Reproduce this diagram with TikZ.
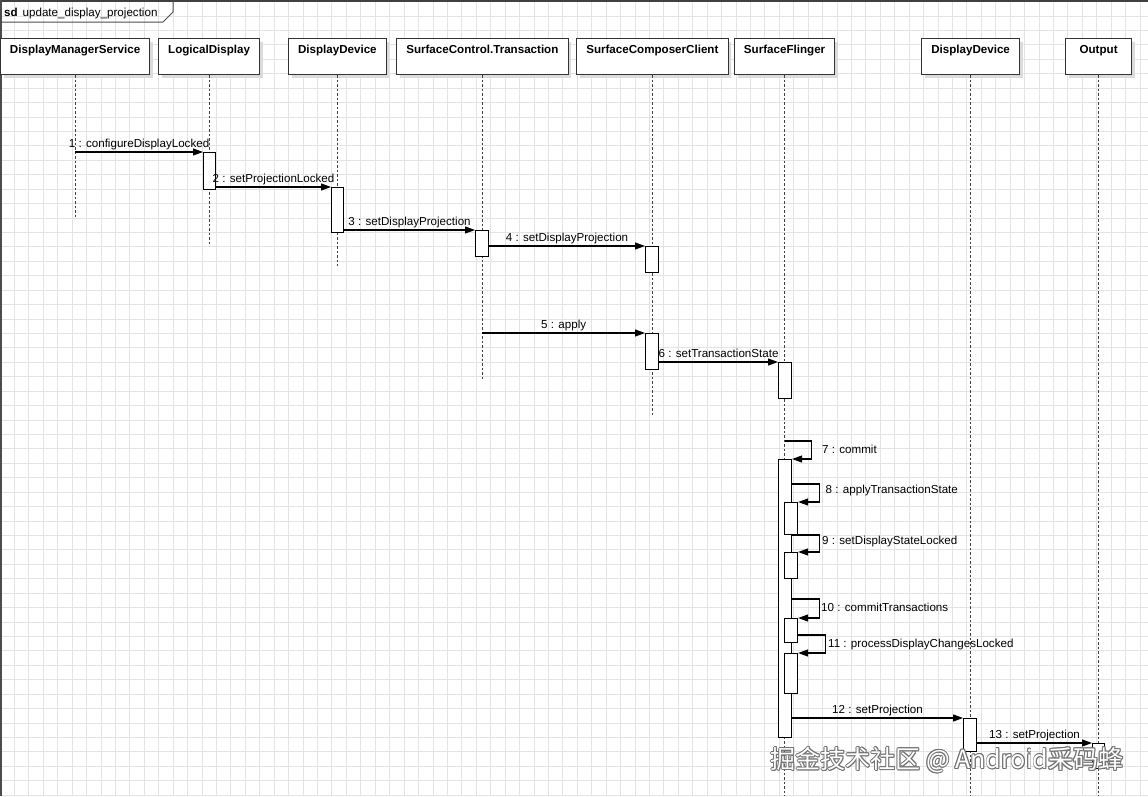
\documentclass[tikz,border=0pt]{standalone}
\usepackage{fontspec}
\setmainfont{Liberation Sans}
\newfontfamily\cjk{Noto Sans CJK SC}
\usetikzlibrary{arrows.meta,shadows,calc}
\begin{document}
\begin{tikzpicture}[x=1pt,y=-1pt,
  every node/.style={font=\fontsize{11.6}{13}\selectfont},
  gridline/.style={draw=black!11, line width=0.8pt},
  head/.style={draw=black!80, line width=1.2pt, fill=white, anchor=north west, inner sep=0pt,
    minimum height=36pt, drop shadow={shadow xshift=3pt, shadow yshift=-3pt, fill=black!14, opacity=1}},
  headtext/.style={anchor=base, inner sep=0pt, font=\fontsize{11.6}{13}\selectfont\bfseries},
  life/.style={draw=black!75, line width=1pt, dash pattern=on 2.5pt off 2pt},
  act/.style={draw=black, line width=1.1pt, fill=white, anchor=north west, inner sep=0pt},
  msg/.style={draw=black, line width=1.1pt, -{Triangle[length=10pt,width=7pt]}},
  lbl/.style={anchor=base, inner sep=0pt, yshift=4.8pt},
  slbl/.style={anchor=base west, inner sep=0pt},
  wm/.style={inner sep=0pt, font=\cjk\fontsize{25}{28}\selectfont}
]
\useasboundingbox (0,0) rectangle (1148,796);
\fill[white] (0,0) rectangle (1148,796);
% grid
\foreach \i in {1,...,79} { \draw[gridline] ({14.43*\i},0) -- ({14.43*\i},796); }
\foreach \j in {0,...,55} { \draw[gridline] (0,{1.5+14.43*\j}) -- (1148,{1.5+14.43*\j}); }
% frame
\draw[black!75, line width=2pt] (0,1) -- (1148,1);
\draw[black!70, line width=1.5pt] (0.75,0) -- (0.75,796);
\draw[black!70, line width=1pt] (0,22) -- (163,22) -- (173,12) -- (173,1);
\node[anchor=base west, inner sep=0pt, font=\fontsize{11.6}{13}\selectfont\bfseries] (sd) at (4,16) {sd};
\node[anchor=base west, inner sep=0pt] (title) at (22.5,16) {update\_display\_projection};

% heads
\node[head, minimum width=149pt] (dms) at (0,38) {};
\node[head, minimum width=101pt] (ld) at (158,38) {};
\node[head, minimum width=97.5pt] (dd) at (288,38) {};
\node[head, minimum width=171.5pt] (sct) at (396,38) {};
\node[head, minimum width=151.5pt] (scc) at (576,38) {};
\node[head, minimum width=100pt] (sf) at (734,38) {};
\node[head, minimum width=98pt] (dd2) at (921,38) {};
\node[head, minimum width=66pt] (out) at (1065,38) {};
\node[headtext] (tdms) at (dms.center |- 0,53.5) {DisplayManagerService};
\node[headtext] (tld) at (ld.center |- 0,53.5) {LogicalDisplay};
\node[headtext] (tdd) at (dd.center |- 0,53.5) {DisplayDevice};
\node[headtext] (tsct) at (sct.center |- 0,53.5) {SurfaceControl.Transaction};
\node[headtext] (tscc) at (scc.center |- 0,53.5) {SurfaceComposerClient};
\node[headtext] (tsf) at (sf.center |- 0,53.5) {SurfaceFlinger};
\node[headtext] (tdd2) at (dd2.center |- 0,53.5) {DisplayDevice};
\node[headtext] (tout) at (out.center |- 0,53.5) {Output};

% lifelines
\draw[life] (dms.south) -- (dms.south |- 0,217);
\draw[life] (ld.south) -- (ld.south |- 0,245);
\draw[life] (dd.south) -- (dd.south |- 0,266);
\draw[life] (sct.south) -- (sct.south |- 0,380);
\draw[life] (scc.south) -- (scc.south |- 0,417);
\draw[life] (sf.south) -- (sf.south |- 0,796);
\draw[life] (dd2.south) -- (dd2.south |- 0,796);
\draw[life] (out.south) -- (out.south |- 0,796);

% activations
\node[act, minimum width=12pt, minimum height=37pt] (a1) at (203,152) {};
\node[act, minimum width=12pt, minimum height=45pt] (a2) at (331,187) {};
\node[act, minimum width=13pt, minimum height=26pt] (a3) at (475,230) {};
\node[act, minimum width=13pt, minimum height=26pt] (a4) at (645,246) {};
\node[act, minimum width=13pt, minimum height=36pt] (a5) at (645,333) {};
\node[act, minimum width=13pt, minimum height=36pt] (a6) at (778,362) {};
\node[act, minimum width=13pt, minimum height=278pt] (a7) at (778,459) {};
\node[act, minimum width=13pt, minimum height=32pt] (a8) at (784,502) {};
\node[act, minimum width=13pt, minimum height=26pt] (a9) at (784,552) {};
\node[act, minimum width=13pt, minimum height=24pt] (a10) at (784,618) {};
\node[act, minimum width=13pt, minimum height=40pt] (a11) at (784,653) {};
\node[act, minimum width=13pt, minimum height=33pt] (a12) at (963,718) {};
\node[act, minimum width=12pt, minimum height=25pt] (a13) at (1092,743) {};

% messages
\draw[msg] (dms.south |- a1.north west) -- node[lbl] (m1) {1 : configureDisplayLocked} (a1.north west);
\draw[msg] (a1.east |- a2.north west) -- node[lbl] (m2) {2 : setProjectionLocked} (a2.north west);
\draw[msg] (a2.east |- a3.north west) -- node[lbl] (m3) {3 : setDisplayProjection} (a3.north west);
\draw[msg] (a3.east |- a4.north west) -- node[lbl] (m4) {4 : setDisplayProjection} (a4.north west);
\draw[msg] (sct.south |- a5.north west) -- node[lbl] (m5) {5 : apply} (a5.north west);
\draw[msg] (a5.east |- a6.north west) -- node[lbl] (m6) {6 : setTransactionState} (a6.north west);
\draw[msg] (sf.south |- 0,441) -- ++(27,0) |- (a7.north east);
\node[slbl] (m7) at (822,453.5) {7 : commit};
\draw[msg] (a7.east |- 0,484) -- ++(27,0) |- (a8.north east);
\node[slbl] (m8) at (825.5,493.5) {8 : applyTransactionState};
\draw[msg] (a7.east |- 0,535) -- ++(27,0) |- (a9.north east);
\node[slbl] (m9) at (822,544) {9 : setDisplayStateLocked};
\draw[msg] (a7.east |- 0,599) -- ++(27,0) |- (a10.north east);
\node[slbl] (m10) at (821,611) {10 : commitTransactions};
\draw[msg] (a10.east |- 0,635) -- ++(27,0) |- (a11.north east);
\node[slbl] (m11) at (828,647.5) {11 : processDisplayChangesLocked};
\draw[msg] (a7.east |- a12.north west) -- node[lbl] (m12) {12 : setProjection} (a12.north west);
\draw[msg] (a12.east |- a13.north west) -- node[lbl] (m13) {13 : setProjection} (a13.north west);

% watermark
\foreach \dx/\dy in {0.8/0,-0.8/0,0/0.8,0/-0.8,0.6/0.6,-0.6/0.6,0.6/-0.6,-0.6/-0.6} {
  \node[wm, text=black!55] at ($(947,760)+(\dx,\dy)$) {掘金技术社区 @ Android采码蜂};
}
\node[wm, text=white] (wmark) at (947,760) {掘金技术社区 @ Android采码蜂};
\end{tikzpicture}
\end{document}
